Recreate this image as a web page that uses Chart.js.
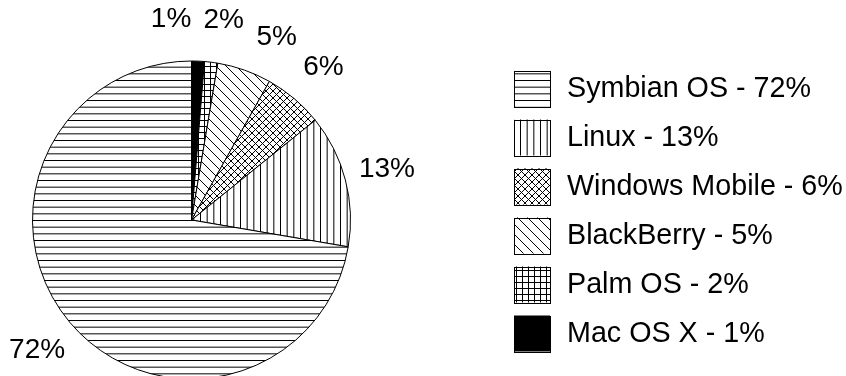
<!DOCTYPE html>
<html>
<head>
<meta charset="utf-8">
<script src="https://cdn.jsdelivr.net/npm/chart.js@4/dist/chart.umd.min.js"></script>
<style>
    html, body { margin: 0; padding: 0; background: #fff; }
    #diagram { display: block; }
</style>
</head>
<body>
<canvas id="diagram" width="846" height="376"></canvas>
<script type="text/javascript">
    // slices go clockwise from 12 o'clock, legend lists them the other way round
    var osNames = ['Mac OS X', 'Palm OS', 'BlackBerry', 'Windows Mobile', 'Linux', 'Symbian OS'];
    // percentages as printed on the chart
    var shareText = [1, 2, 5, 6, 13, 72];
    // slice sizes (they don't quite agree with the printed numbers)
    var sliceSizes = [1.3, 1.35, 5.5, 6.05, 13.5, 72.3];
    var osFills = ['solid', 'grid', 'diagonal', 'cross', 'vertical', 'horizontal'];

    var fontName = '"Liberation Sans", Arial, Helvetica, sans-serif';
    var labelSize = 28;
    var legendSize = 28.7;

    function makeFill(kind) {
        if (kind == 'solid') {
            return '#000';
        }
        var c = document.createElement('canvas');
        var g = c.getContext('2d');
        var n = 20;
        if (kind == 'grid') n = 6;
        if (kind == 'diagonal') n = 10;
        if (kind == 'cross') n = 7;
        c.width = n;
        c.height = n;
        g.fillStyle = '#fff';
        g.fillRect(0, 0, n, n);
        g.strokeStyle = '#000';
        g.lineWidth = 1;
        g.beginPath();
        if (kind == 'horizontal') {
            for (var i = 0; i < 3; i++) {
                g.moveTo(0, 0.5 + i * n / 3);
                g.lineTo(n, 0.5 + i * n / 3);
            }
        }
        else if (kind == 'vertical') {
            for (var i = 0; i < 3; i++) {
                g.moveTo(0.5 + i * n / 3, 0);
                g.lineTo(0.5 + i * n / 3, n);
            }
        }
        else if (kind == 'grid') {
            g.moveTo(0.5, 0);
            g.lineTo(0.5, n);
            g.moveTo(0, 0.5);
            g.lineTo(n, 0.5);
        }
        else {
            // "\" lines, plus "/" lines for the cross hatch
            g.moveTo(-1, -1);
            g.lineTo(n + 1, n + 1);
            g.moveTo(-1, n - 1);
            g.lineTo(1, n + 1);
            g.moveTo(n - 1, -1);
            g.lineTo(n + 1, 1);
            if (kind == 'cross') {
                g.moveTo(-1, n + 1);
                g.lineTo(n + 1, -1);
                g.moveTo(-1, 1);
                g.lineTo(1, -1);
                g.moveTo(n - 1, n + 1);
                g.lineTo(n + 1, n - 1);
            }
        }
        g.stroke();
        return g.createPattern(c, 'repeat');
    }

    var patterns = osFills.map(makeFill);

    // percentage labels round the pie, pushed apart where they would touch
    var sliceLabels = {
        id: 'sliceLabels',
        afterDatasetsDraw: function(chart) {
            var ctx = chart.ctx;
            var arcs = chart.getDatasetMeta(0).data;
            ctx.save();
            ctx.font = labelSize + 'px ' + fontName;
            ctx.fillStyle = '#000';
            ctx.textAlign = 'center';
            ctx.textBaseline = 'middle';

            var items = [];
            for (var i = 0; i < arcs.length; i++) {
                var a = arcs[i];
                var text = shareText[i] + '%';
                items.push({
                    text: text,
                    angle: (a.startAngle + a.endAngle) / 2,
                    w: ctx.measureText(text).width,
                    cx: a.x,
                    cy: a.y,
                    r: a.outerRadius + 43
                });
            }
            function place(it) {
                it.x = it.cx + it.r * Math.cos(it.angle);
                it.y = it.cy + it.r * Math.sin(it.angle);
            }
            items.forEach(place);
            for (var k = 0; k < 3000; k++) {
                var moved = false;
                for (var i = 0; i < items.length - 1; i++) {
                    var p = items[i], q = items[i + 1];
                    var ox = (p.w + q.w) / 2 + 12 - Math.abs(p.x - q.x);
                    var oy = 30 - Math.abs(p.y - q.y);
                    if (ox > 0 && oy > 0) {
                        p.angle -= 0.002;
                        q.angle += 0.002;
                        place(p);
                        place(q);
                        moved = true;
                    }
                }
                if (!moved) break;
            }
            items.forEach(function(it) {
                ctx.fillText(it.text, it.x, it.y);
            });
            ctx.restore();
        }
    };

    var boxLegend = {
        id: 'boxLegend',
        afterDraw: function(chart) {
            var ctx = chart.ctx;
            var boxX = 514, boxSize = 36, firstY = 88.5, rowStep = 49, textX = 567;
            ctx.save();
            ctx.font = legendSize + 'px ' + fontName;
            ctx.textAlign = 'left';
            ctx.textBaseline = 'middle';
            var row = 0;
            for (var i = osNames.length - 1; i >= 0; i--) {
                var y = firstY + row * rowStep;
                ctx.fillStyle = patterns[i];
                ctx.fillRect(boxX, y - boxSize / 2, boxSize, boxSize);
                ctx.strokeStyle = '#000';
                ctx.lineWidth = 1;
                ctx.strokeRect(boxX + 0.5, Math.round(y - boxSize / 2) + 0.5, boxSize, boxSize);
                ctx.fillStyle = '#000';
                ctx.fillText(osNames[i] + ' - ' + shareText[i] + '%', textX, y + 1);
                row++;
            }
            ctx.restore();
        }
    };

    var myPieChart = new Chart(document.getElementById('diagram'), {
        type: 'pie',
        data: {
            labels: osNames,
            datasets: [{
                data: sliceSizes,
                backgroundColor: patterns,
                borderColor: '#000',
                borderWidth: 1,
                radius: 159,
                clip: false
            }]
        },
        options: {
            responsive: false,
            animation: false,
            events: [],
            layout: {
                padding: { left: 33, right: 496, top: 64, bottom: 0 }
            },
            plugins: {
                legend: { display: false },
                tooltip: { enabled: false }
            }
        },
        plugins: [sliceLabels, boxLegend]
    });
</script>
</body>
</html>
